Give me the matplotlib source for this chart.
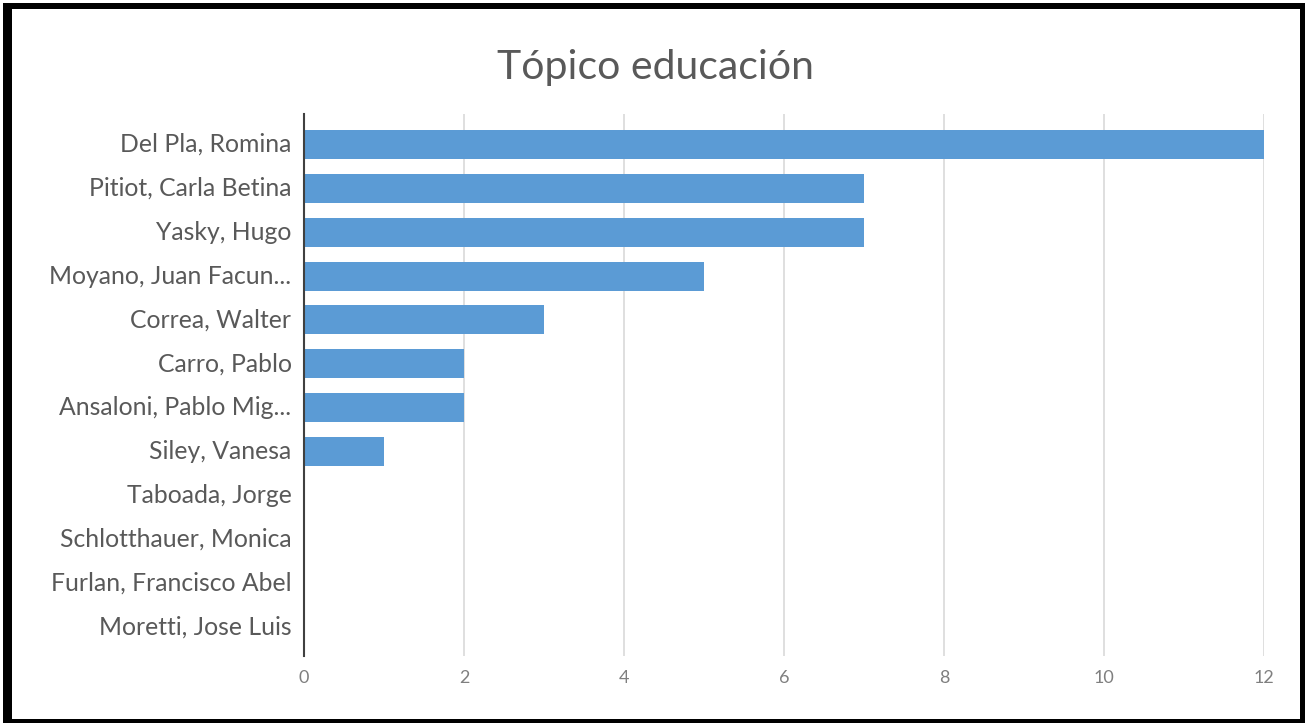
import matplotlib
matplotlib.use("Agg")
import matplotlib.pyplot as plt
from matplotlib.patches import Rectangle

categories = ["Del Pla, Romina", "Pitiot, Carla Betina", "Yasky, Hugo",
              "Moyano, Juan Facun...", "Correa, Walter", "Carro, Pablo",
              "Ansaloni, Pablo Mig...", "Siley, Vanesa", "Taboada, Jorge",
              "Schlotthauer, Monica", "Furlan, Francisco Abel", "Moretti, Jose Luis"]
values = [12, 7, 7, 5, 3, 2, 2, 1, 0, 0, 0, 0]
xticks = [0, 2, 4, 6, 8, 10, 12]

plt.rcParams['font.family'] = ['Lato', 'DejaVu Sans']
W, H = 1305, 723
fig = plt.figure(figsize=(W / 100, H / 100), dpi=100)
ax = fig.add_axes([304 / W, 1 - 656 / H, (1264 - 304) / W, (656 - 114) / H])

ypos = list(range(len(categories)))
ax.barh(ypos, values, height=0.66, color="#5B9BD5", zorder=3)
ax.set_ylim(len(categories) - 1 + 0.66, -0.695)
ax.set_xlim(0, 12)
ax.set_xticks(xticks)
ax.set_xticklabels([str(t) for t in xticks], fontsize=13, color="#7f7f7f")
ax.set_yticks(ypos)
ax.set_yticklabels(categories, fontsize=17.8, color="#595959")
for lbl in ax.get_yticklabels():
    lbl.set_verticalalignment("center")
ax.tick_params(axis="y", length=0, pad=9)
ax.tick_params(axis="x", length=0, pad=10)
ax.xaxis.grid(True, color="#d9d9d9", linewidth=1.2, zorder=0)
for s in ["top", "right", "bottom"]:
    ax.spines[s].set_visible(False)
ax.spines["left"].set_color("#404040")
ax.spines["left"].set_linewidth(1.5)
ax.spines["left"].set_zorder(4)

fig.text(655 / W, 1 - 68 / H, "Tópico educación", ha="center", va="center",
         fontsize=29.5, color="#595959")

# outer black border (pixel boxes: x0, y_top, x1, y_bottom)
def pxrect(x0, y0, x1, y1):
    fig.patches.append(Rectangle((x0 / W, 1 - y1 / H), (x1 - x0) / W, (y1 - y0) / H,
                                 transform=fig.transFigure, facecolor="black",
                                 edgecolor="none", zorder=10))

pxrect(3, 3, 12, 723)      # left
pxrect(3, 3, 1305, 9)      # top
pxrect(1300, 3, 1305, 723) # right
pxrect(3, 719, 1305, 723)  # bottom

fig.savefig("out.png", dpi=100, facecolor="white")
